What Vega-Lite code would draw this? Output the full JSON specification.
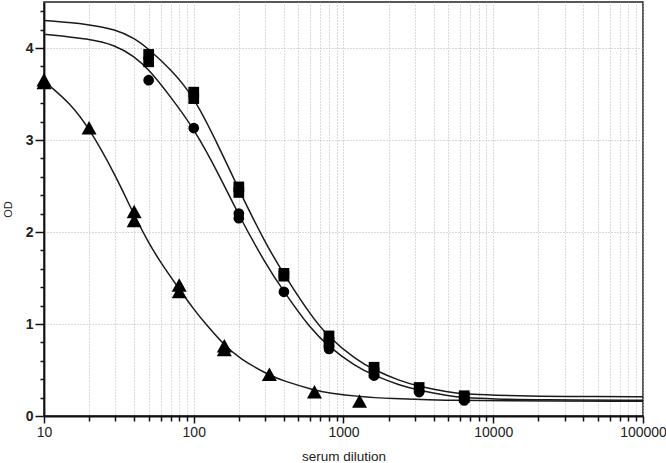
{
  "$schema": "https://vega.github.io/schema/vega-lite/v6.json",
  "width": 599,
  "height": 414,
  "autosize": {"type": "none"},
  "padding": {"left": 44, "top": 2, "right": 23, "bottom": 47},
  "background": "white",
  "config": {
    "font": "Liberation Sans",
    "view": {"stroke": "#222", "strokeWidth": 1.5},
    "axis": {"labelColor": "#222", "titleColor": "#222", "domainColor": "#111", "domainWidth": 1.8, "tickColor": "#111", "tickWidth": 1.5}
  },
  "datasets": {
    "curves": [
      {"dil": 10, "od": 4.3, "s": "A"}, {"dil": 20, "od": 4.26, "s": "A"}, {"dil": 30, "od": 4.2, "s": "A"}, {"dil": 40, "od": 4.11, "s": "A"}, {"dil": 50, "od": 3.99, "s": "A"}, {"dil": 70, "od": 3.77, "s": "A"}, {"dil": 100, "od": 3.48, "s": "A"}, {"dil": 150, "od": 2.9, "s": "A"}, {"dil": 200, "od": 2.46, "s": "A"}, {"dil": 300, "od": 1.88, "s": "A"}, {"dil": 400, "od": 1.54, "s": "A"}, {"dil": 600, "od": 1.1, "s": "A"}, {"dil": 800, "od": 0.85, "s": "A"}, {"dil": 1200, "od": 0.62, "s": "A"}, {"dil": 1600, "od": 0.5, "s": "A"}, {"dil": 2400, "od": 0.38, "s": "A"}, {"dil": 3200, "od": 0.32, "s": "A"}, {"dil": 5000, "od": 0.26, "s": "A"}, {"dil": 6400, "od": 0.24, "s": "A"}, {"dil": 10000, "od": 0.225, "s": "A"}, {"dil": 20000, "od": 0.215, "s": "A"}, {"dil": 50000, "od": 0.21, "s": "A"}, {"dil": 100000, "od": 0.21, "s": "A"},
      {"dil": 10, "od": 4.15, "s": "B"}, {"dil": 20, "od": 4.1, "s": "B"}, {"dil": 30, "od": 4.03, "s": "B"}, {"dil": 40, "od": 3.91, "s": "B"}, {"dil": 50, "od": 3.77, "s": "B"}, {"dil": 70, "od": 3.47, "s": "B"}, {"dil": 100, "od": 3.13, "s": "B"}, {"dil": 150, "od": 2.6, "s": "B"}, {"dil": 200, "od": 2.18, "s": "B"}, {"dil": 300, "od": 1.66, "s": "B"}, {"dil": 400, "od": 1.35, "s": "B"}, {"dil": 600, "od": 0.95, "s": "B"}, {"dil": 800, "od": 0.75, "s": "B"}, {"dil": 1200, "od": 0.54, "s": "B"}, {"dil": 1600, "od": 0.44, "s": "B"}, {"dil": 2400, "od": 0.33, "s": "B"}, {"dil": 3200, "od": 0.28, "s": "B"}, {"dil": 5000, "od": 0.22, "s": "B"}, {"dil": 6400, "od": 0.2, "s": "B"}, {"dil": 10000, "od": 0.185, "s": "B"}, {"dil": 20000, "od": 0.175, "s": "B"}, {"dil": 100000, "od": 0.17, "s": "B"},
      {"dil": 10, "od": 3.64, "s": "C"}, {"dil": 15, "od": 3.4, "s": "C"}, {"dil": 20, "od": 3.13, "s": "C"}, {"dil": 30, "od": 2.62, "s": "C"}, {"dil": 40, "od": 2.18, "s": "C"}, {"dil": 50, "od": 1.88, "s": "C"}, {"dil": 60, "od": 1.67, "s": "C"}, {"dil": 80, "od": 1.38, "s": "C"}, {"dil": 100, "od": 1.16, "s": "C"}, {"dil": 120, "od": 1.0, "s": "C"}, {"dil": 160, "od": 0.77, "s": "C"}, {"dil": 200, "od": 0.63, "s": "C"}, {"dil": 320, "od": 0.44, "s": "C"}, {"dil": 400, "od": 0.38, "s": "C"}, {"dil": 640, "od": 0.28, "s": "C"}, {"dil": 800, "od": 0.25, "s": "C"}, {"dil": 1280, "od": 0.21, "s": "C"}, {"dil": 2000, "od": 0.19, "s": "C"}, {"dil": 5000, "od": 0.17, "s": "C"}, {"dil": 10000, "od": 0.165, "s": "C"}, {"dil": 100000, "od": 0.16, "s": "C"}
    ],
    "points": [
      {"dil": 50, "od": 3.93, "s": "A"}, {"dil": 50, "od": 3.85, "s": "A"}, {"dil": 100, "od": 3.52, "s": "A"}, {"dil": 100, "od": 3.45, "s": "A"}, {"dil": 200, "od": 2.49, "s": "A"}, {"dil": 200, "od": 2.43, "s": "A"}, {"dil": 400, "od": 1.55, "s": "A"}, {"dil": 400, "od": 1.52, "s": "A"}, {"dil": 800, "od": 0.87, "s": "A"}, {"dil": 800, "od": 0.8, "s": "A"}, {"dil": 1600, "od": 0.53, "s": "A"}, {"dil": 1600, "od": 0.47, "s": "A"}, {"dil": 3200, "od": 0.31, "s": "A"}, {"dil": 6400, "od": 0.22, "s": "A"}, {"dil": 6400, "od": 0.2, "s": "A"},
      {"dil": 50, "od": 3.65, "s": "B"}, {"dil": 100, "od": 3.13, "s": "B"}, {"dil": 200, "od": 2.2, "s": "B"}, {"dil": 200, "od": 2.15, "s": "B"}, {"dil": 400, "od": 1.35, "s": "B"}, {"dil": 800, "od": 0.76, "s": "B"}, {"dil": 800, "od": 0.73, "s": "B"}, {"dil": 1600, "od": 0.44, "s": "B"}, {"dil": 3200, "od": 0.26, "s": "B"}, {"dil": 6400, "od": 0.17, "s": "B"},
      {"dil": 10, "od": 3.65, "s": "C"}, {"dil": 10, "od": 3.62, "s": "C"}, {"dil": 20, "od": 3.13, "s": "C"}, {"dil": 40, "od": 2.22, "s": "C"}, {"dil": 40, "od": 2.12, "s": "C"}, {"dil": 80, "od": 1.42, "s": "C"}, {"dil": 80, "od": 1.35, "s": "C"}, {"dil": 160, "od": 0.76, "s": "C"}, {"dil": 160, "od": 0.72, "s": "C"}, {"dil": 320, "od": 0.45, "s": "C"}, {"dil": 640, "od": 0.26, "s": "C"}, {"dil": 1280, "od": 0.16, "s": "C"}
    ]
  },
  "encoding": {
    "x": {
      "field": "dil", "type": "quantitative",
      "scale": {"type": "log", "domain": [10, 100000], "nice": false},
      "axis": {
        "title": "serum dilution",
        "titleFont": "Liberation Sans", "titleFontSize": 13.5, "titleFontWeight": "normal", "titlePadding": 10,
        "values": [10, 20, 30, 40, 50, 60, 70, 80, 90, 100, 200, 300, 400, 500, 600, 700, 800, 900, 1000, 2000, 3000, 4000, 5000, 6000, 7000, 8000, 9000, 10000, 20000, 30000, 40000, 50000, 60000, 70000, 80000, 90000, 100000],
        "format": "d",
        "labelExpr": "indexof([10,100,1000,10000,100000], datum.value) >= 0 ? datum.label : ''",
        "labelFontSize": 14, "labelPadding": 2, "labelFlush": false, "labelOverlap": false,
        "tickSize": {"condition": {"test": "indexof([10,100,1000,10000,100000], datum.value) >= 0", "value": 7}, "value": 5},
        "grid": true, "gridColor": "#b4b4b4", "gridDash": [1, 2], "gridWidth": 1
      }
    },
    "y": {
      "field": "od", "type": "quantitative",
      "scale": {"domain": [0, 4.5], "nice": false},
      "axis": {
        "title": "OD",
        "titleFont": "Liberation Sans", "titleFontSize": 11, "titleFontWeight": "normal", "titlePadding": 12,
        "values": [0, 0.2, 0.4, 0.6, 0.8, 1, 1.2, 1.4, 1.6, 1.8, 2, 2.2, 2.4, 2.6, 2.8, 3, 3.2, 3.4, 3.6, 3.8, 4, 4.2, 4.4],
        "labelExpr": "datum.value % 1 == 0 ? format(datum.value, 'd') : ''",
        "labelFontSize": 14, "labelFontWeight": "bold", "labelPadding": 2, "labelOverlap": false, "labelFlush": false,
        "tickSize": {"condition": {"test": "datum.value % 1 == 0", "value": 9}, "value": 4},
        "grid": true, "gridColor": "#b4b4b4", "gridDash": [1, 2], "gridWidth": 1,
        "gridOpacity": {"condition": {"test": "datum.value % 1 == 0", "value": 1}, "value": 0}
      }
    }
  },
  "layer": [
    {
      "data": {"name": "curves"},
      "mark": {"type": "line", "interpolate": "basis", "strokeWidth": 1.5, "color": "#1a1a1a", "clip": true},
      "encoding": {"detail": {"field": "s", "type": "nominal"}}
    },
    {
      "data": {"name": "points"},
      "transform": [{"filter": "datum.s == 'A'"}],
      "mark": {"type": "point", "shape": "square", "size": 115, "filled": true, "opacity": 1, "color": "#000"}
    },
    {
      "data": {"name": "points"},
      "transform": [{"filter": "datum.s == 'B'"}],
      "mark": {"type": "point", "shape": "circle", "size": 115, "filled": true, "opacity": 1, "color": "#000"}
    },
    {
      "data": {"name": "points"},
      "transform": [{"filter": "datum.s == 'C'"}],
      "mark": {"type": "point", "shape": "M0,-0.95L-1,0.85L1,0.85Z", "size": 225, "filled": true, "opacity": 1, "color": "#000"}
    }
  ]
}
